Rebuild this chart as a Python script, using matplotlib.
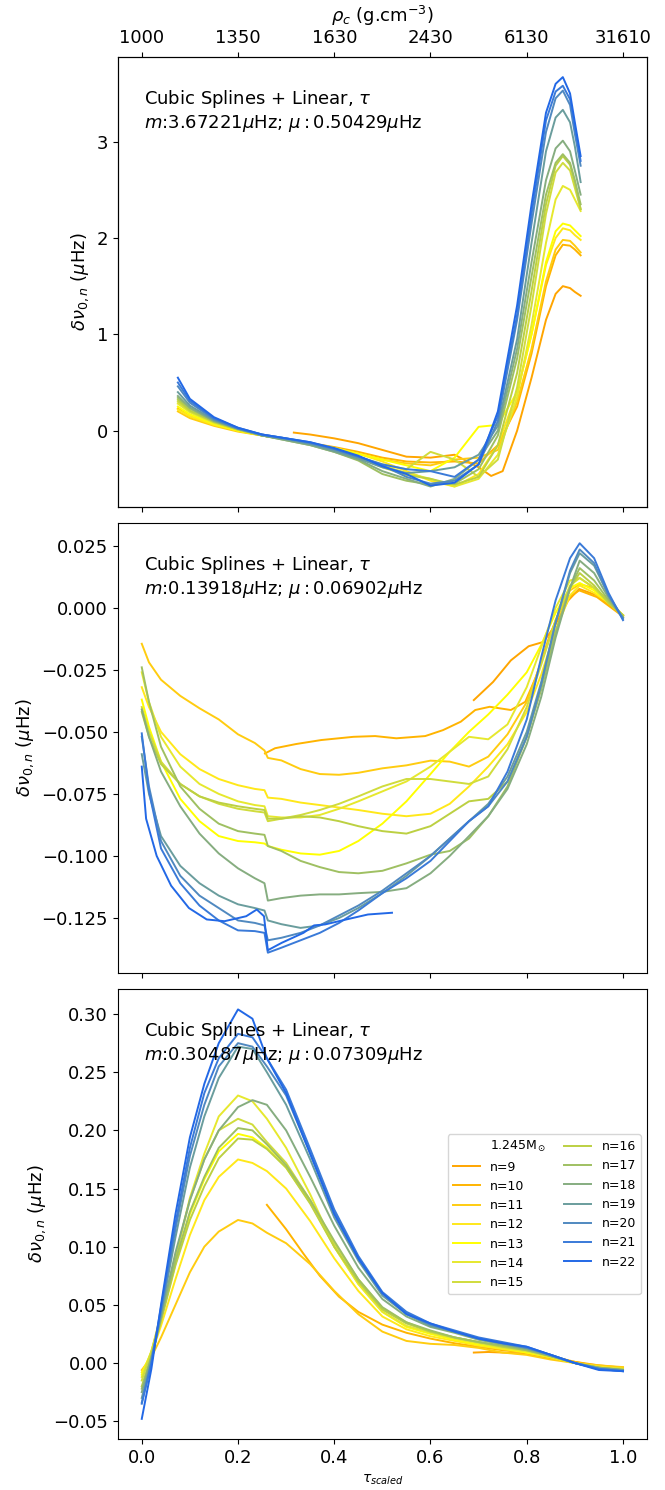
import matplotlib
matplotlib.use("Agg")
import matplotlib.pyplot as plt
from matplotlib.lines import Line2D

# radial order of each curve and its colour
modes = [9, 10, 11, 12, 13, 14, 15, 16, 17, 18, 19, 20, 21, 22]
colors = ['#ffa500', '#ffb400', '#ffcc10', '#ffe81a', '#ffff00', '#e6e82e',
          '#d0dc3c', '#bcd042', '#9fc062', '#86ad80', '#6a9d9d', '#5089c0',
          '#3a7ad8', '#2268e6']

# top axis: central density at tau_scaled = 0, 0.2, ... 1.0
rho_ticks = [0.0, 0.2, 0.4, 0.6, 0.8, 1.0]
rho_labels = ['1000', '1350', '1630', '2430', '6130', '31610']

# ---------------- panel 1 (muHz) ----------------
top_tau = [0.075, 0.1, 0.15, 0.2, 0.25, 0.3, 0.35, 0.4, 0.45, 0.5, 0.55, 0.6,
           0.65, 0.7, 0.74, 0.78, 0.81, 0.84, 0.86, 0.875, 0.89, 0.9, 0.912]
top_tau_n9 = [0.316, 0.35, 0.4, 0.45, 0.5, 0.55, 0.6, 0.65, 0.7, 0.726, 0.75,
              0.78, 0.81, 0.84, 0.86, 0.875, 0.89, 0.9, 0.912]
top_n9 = [-0.02, -0.04, -0.08, -0.13, -0.20, -0.27, -0.28, -0.25, -0.38, -0.47,
          -0.42, 0.0, 0.55, 1.15, 1.42, 1.50, 1.48, 1.44, 1.40]
top_y = [
    [0.23, 0.15, 0.06, 0.0, -0.05, -0.09, -0.13, -0.17, -0.22, -0.28, -0.32, -0.33, -0.32, -0.34, -0.15, 0.25, 0.80, 1.50, 1.82, 1.93, 1.92, 1.88, 1.82],  # n=10
    [0.20, 0.13, 0.05, -0.01, -0.05, -0.09, -0.13, -0.18, -0.24, -0.30, -0.34, -0.36, -0.30, -0.28, -0.20, 0.30, 0.85, 1.55, 1.88, 1.98, 1.97, 1.92, 1.85],  # n=11
    [0.22, 0.15, 0.06, 0.0, -0.05, -0.09, -0.13, -0.18, -0.24, -0.32, -0.42, -0.52, -0.58, -0.45, -0.15, 0.40, 1.00, 1.72, 2.00, 2.10, 2.08, 2.03, 1.98],  # n=12
    [0.25, 0.17, 0.07, 0.0, -0.05, -0.09, -0.13, -0.18, -0.24, -0.30, -0.36, -0.42, -0.28, 0.04, 0.06, 0.40, 1.00, 1.75, 2.07, 2.15, 2.13, 2.08, 2.02],  # n=13
    [0.28, 0.19, 0.08, 0.01, -0.05, -0.09, -0.14, -0.20, -0.27, -0.36, -0.44, -0.50, -0.58, -0.50, -0.25, 0.35, 1.10, 1.95, 2.40, 2.54, 2.50, 2.40, 2.28],  # n=14
    [0.30, 0.20, 0.09, 0.01, -0.05, -0.09, -0.14, -0.20, -0.27, -0.35, -0.40, -0.22, -0.30, -0.48, -0.30, 0.45, 1.30, 2.25, 2.68, 2.78, 2.70, 2.52, 2.30],  # n=15
    [0.32, 0.21, 0.09, 0.01, -0.05, -0.09, -0.14, -0.20, -0.28, -0.38, -0.46, -0.50, -0.56, -0.48, -0.15, 0.60, 1.45, 2.35, 2.75, 2.85, 2.76, 2.58, 2.30],  # n=16
    [0.34, 0.23, 0.10, 0.02, -0.05, -0.10, -0.15, -0.22, -0.31, -0.45, -0.52, -0.56, -0.55, -0.40, -0.05, 0.75, 1.60, 2.45, 2.78, 2.87, 2.78, 2.60, 2.35],  # n=17
    [0.36, 0.24, 0.10, 0.02, -0.05, -0.10, -0.15, -0.22, -0.30, -0.42, -0.50, -0.58, -0.50, -0.30, 0.0, 0.85, 1.75, 2.60, 2.93, 3.01, 2.90, 2.70, 2.45],  # n=18
    [0.40, 0.26, 0.11, 0.02, -0.05, -0.09, -0.14, -0.21, -0.29, -0.38, -0.44, -0.42, -0.38, -0.25, 0.05, 0.95, 1.95, 2.90, 3.25, 3.33, 3.20, 2.95, 2.58],  # n=19
    [0.46, 0.29, 0.12, 0.02, -0.04, -0.08, -0.13, -0.19, -0.27, -0.36, -0.48, -0.55, -0.52, -0.35, 0.10, 1.15, 2.15, 3.10, 3.45, 3.53, 3.38, 3.08, 2.75],  # n=20
    [0.50, 0.31, 0.13, 0.03, -0.04, -0.08, -0.12, -0.19, -0.27, -0.35, -0.40, -0.42, -0.48, -0.30, 0.15, 1.20, 2.25, 3.22, 3.52, 3.58, 3.44, 3.15, 2.80],  # n=21
    [0.55, 0.33, 0.14, 0.03, -0.04, -0.08, -0.12, -0.18, -0.26, -0.37, -0.45, -0.57, -0.54, -0.35, 0.20, 1.30, 2.35, 3.30, 3.60, 3.67, 3.50, 3.20, 2.85],  # n=22
]

# ---------------- panel 2 (muHz) ----------------
mid_tau = [0, 0.015, 0.04, 0.08, 0.12, 0.16, 0.2, 0.235, 0.255, 0.262, 0.29,
           0.33, 0.37, 0.41, 0.45, 0.5, 0.55, 0.6, 0.64, 0.68, 0.72, 0.76,
           0.8, 0.83, 0.86, 0.89, 0.91, 0.94, 0.97, 1.0]
mid_tau_n9 = [0.69, 0.73, 0.767, 0.804, 0.834, 0.857, 0.886, 0.909, 0.946, 1.0]
mid_n9 = [-37.2, -29.9, -21.2, -15.5, -13.8, -7.8, 2.9, 7.6, 5.0, -3.1]
mid_tau_n10 = [0.256, 0.277, 0.321, 0.373, 0.44, 0.485, 0.529, 0.589, 0.626,
               0.663, 0.693, 0.723, 0.767, 0.797, 0.819, 0.849, 0.879, 0.909,
               0.946, 1.0]
mid_n10 = [-58.7, -56.6, -54.9, -53.3, -52.0, -51.7, -52.6, -51.7, -49.3, -45.9,
           -41.2, -39.9, -41.2, -37.9, -27.9, -10.4, 2.9, 7.0, 4.3, -3.5]
mid_tau_n22 = [0, 0.009, 0.031, 0.061, 0.098, 0.135, 0.172, 0.217, 0.239, 0.254,
               0.262, 0.291, 0.336, 0.358, 0.381, 0.425, 0.47, 0.52]
mid_n22 = [-64, -85, -100, -112, -121, -125.6, -126.3, -124.3, -121.6, -124.3,
           -138, -135, -131, -128, -127.6, -125.6, -123.6, -122.9]
mid_y = [
    [-14.5, -22, -29, -35.5, -40.5, -45, -51, -54.5, -57.5, -60.5, -61.5, -65, -67, -67.3, -66.5, -64.7, -63.5, -61.6, -62, -64, -60, -51, -38, -22, -5, 7, 9.5, 8, 3, -3],  # n=11
    [-32, -40, -50, -59, -65, -69, -71.5, -73, -73.5, -76.5, -77, -78.5, -79.5, -80.5, -81.5, -83, -84, -83, -79, -72, -64, -55, -42, -27, -9, 5, 9, 6, 2, -3],  # n=12
    [-37, -48, -62, -77, -86, -92, -94, -94.5, -95, -96, -97.5, -99, -99.5, -98, -94, -87, -78, -67, -58, -50, -43, -35, -26, -15, -2, 8, 10, 7, 2, -3],  # n=13
    [-26, -38, -52, -64, -71, -75, -78, -79.5, -80, -84, -84.5, -84.5, -83.5, -81, -78, -74, -70, -64, -58, -52, -53, -47, -32, -16, 0, 11, 12, 8, 2, -3],  # n=14
    [-40, -50, -62, -71, -76, -79, -81, -82, -82.5, -86, -85, -83.5, -81.5, -79, -76, -72, -69, -69, -70, -71, -68, -57, -40, -23, -5, 9, 12, 8, 2, -3],  # n=15
    [-42, -52, -63, -71, -76, -78.5, -80, -81, -81.5, -85, -85, -84, -84.5, -86, -88, -90, -91, -88, -83, -78, -77, -70, -52, -32, -10, 8, 14, 9, 2, -3],  # n=16
    [-24, -38, -56, -72, -81, -87, -90, -91, -91.5, -96, -98, -102, -104.5, -106.5, -107, -106, -103, -99.5, -98, -93, -84, -72, -52, -33, -10, 8, 16, 11, 3, -4],  # n=17
    [-41, -52, -66, -80, -91, -99, -105, -109, -111, -118, -117, -116, -115.5, -115.5, -115, -114.5, -113, -107, -100, -92, -84, -73, -55, -36, -12, 8, 19, 14, 4, -4],  # n=18
    [-59, -75, -92, -104, -111, -116, -119.5, -121, -122, -126, -127.5, -129, -128, -125, -121, -115, -108, -100, -93, -86, -79, -68, -50, -30, -6, 14, 22, 17, 5, -4],  # n=19
    [-52, -72, -94, -108, -116, -121, -126, -127, -128, -134, -133, -131, -128, -124, -120, -114, -107, -100, -93, -86, -80, -70, -52, -31, -6, 15, 23.5, 18, 5, -4.5],  # n=20
    [-50.6, -74, -97, -111, -120, -126, -130, -130.3, -131, -139, -137, -134, -131, -127, -122, -115, -109, -102, -94, -86, -80, -66, -45, -20, 3, 20, 26, 20, 6, -5],  # n=21
]

# ---------------- panel 3 (muHz) ----------------
bot_tau = [0, 0.02, 0.04, 0.07, 0.1, 0.13, 0.16, 0.2, 0.23, 0.26, 0.3, 0.35,
           0.4, 0.45, 0.5, 0.55, 0.6, 0.65, 0.7, 0.75, 0.8, 0.85, 0.9, 0.95, 1.0]
bot_tau_n9 = [0.69, 0.72, 0.75, 0.8, 0.85, 0.9, 0.95, 1.0]
bot_n9 = [9, 9.5, 9, 8, 4, 1, -2, -4]
bot_tau_n10 = [0.26, 0.3, 0.336, 0.37, 0.41, 0.45, 0.5, 0.55, 0.6, 0.65, 0.7,
               0.75, 0.8, 0.85, 0.9, 0.95, 1.0]
bot_n10 = [136, 115, 94, 75, 57, 44, 33, 26, 21, 17, 14, 11, 9, 6, 1, -3, -4]
bot_y = [
    [-6, 5, 22, 50, 78, 100, 113, 123, 120, 112, 103, 85, 62, 42, 27, 19, 16.5, 15.5, 13, 9, 7, 3, 0, -2, -3.5],  # n=11
    [-8, 8, 32, 72, 110, 140, 160, 175, 172, 165, 150, 122, 90, 62, 40, 29, 23, 19, 15, 12, 9, 5, 0, -3, -5],  # n=12
    [-10, 10, 38, 85, 128, 158, 182, 197, 194, 185, 168, 138, 100, 68, 44, 31, 25, 20, 16, 13, 9, 5, 0, -4, -5],  # n=13
    [-12, 10, 40, 90, 142, 180, 212, 230, 225, 210, 185, 145, 100, 68, 44, 32, 26, 21, 17, 13, 10, 5, 0, -4, -5],  # n=14
    [-15, 10, 42, 92, 140, 175, 200, 210, 205, 190, 172, 140, 103, 72, 47, 35, 27, 22, 18, 14, 11, 6, 0, -4, -5],  # n=15
    [-20, 6, 36, 84, 123, 152, 176, 193, 192, 184, 168, 137, 100, 70, 46, 34, 27, 22, 18, 14, 11, 6, 0, -4, -6],  # n=16
    [-22, 5, 38, 88, 130, 160, 185, 202, 200, 188, 170, 140, 105, 72, 48, 35, 28, 22, 18, 15, 11, 6, 0, -4, -6],  # n=17
    [-25, 5, 40, 95, 140, 175, 200, 220, 226, 222, 200, 160, 118, 82, 55, 40, 31, 26, 20, 16, 12, 6, 0, -4, -6],  # n=18
    [-30, 2, 42, 108, 168, 212, 245, 272, 270, 250, 222, 175, 125, 88, 58, 42, 32, 27, 21, 17, 13, 7, 0, -5, -6],  # n=19
    [-34, 0, 45, 115, 178, 222, 255, 275, 272, 255, 230, 180, 130, 90, 60, 43, 33, 27, 21, 17, 13, 7, 0, -5, -7],  # n=20
    [-35, 0, 48, 120, 185, 232, 262, 283, 280, 262, 235, 184, 132, 92, 61, 44, 34, 28, 22, 18, 14, 7, 0, -5, -7],  # n=21
    [-48, -5, 50, 128, 194, 240, 275, 304, 296, 262, 232, 180, 128, 90, 60, 42, 34, 27, 21, 17, 14, 7, 0, -6, -7],  # n=22
]

stats = [('3.67221', '0.50429'), ('0.13918', '0.06902'), ('0.30487', '0.07309')]

plt.rcParams['font.family'] = ['DejaVu Sans']
plt.rcParams['xtick.labelsize'] = 13
plt.rcParams['ytick.labelsize'] = 13

fig, axes = plt.subplots(3, 1, sharex=True, figsize=(6.65, 14.9), dpi=100)
fig.subplots_adjust(left=0.177, right=0.973, top=0.962, bottom=0.034, hspace=0.035)

lw = 1.4
ax = axes[0]
ax.plot(top_tau_n9, top_n9, color=colors[0], lw=lw)
for i, ys in enumerate(top_y):
    ax.plot(top_tau, ys, color=colors[i + 1], lw=lw)

ax = axes[1]
ax.plot(mid_tau_n9, [v / 1000 for v in mid_n9], color=colors[0], lw=lw)
ax.plot(mid_tau_n10, [v / 1000 for v in mid_n10], color=colors[1], lw=lw)
for i, ys in enumerate(mid_y):
    ax.plot(mid_tau, [v / 1000 for v in ys], color=colors[i + 2], lw=lw)
ax.plot(mid_tau_n22, [v / 1000 for v in mid_n22], color=colors[13], lw=lw)

ax = axes[2]
ax.plot(bot_tau_n9, [v / 1000 for v in bot_n9], color=colors[0], lw=lw)
ax.plot(bot_tau_n10, [v / 1000 for v in bot_n10], color=colors[1], lw=lw)
for i, ys in enumerate(bot_y):
    ax.plot(bot_tau, [v / 1000 for v in ys], color=colors[i + 2], lw=lw)

for ax, (m, mu) in zip(axes, stats):
    ax.text(0.05, 0.93, 'Cubic Splines + Linear, $\\tau$\n'
            '$m$:' + m + '$\\mu$Hz; $\\mu:' + mu + '\\mu$Hz',
            transform=ax.transAxes, fontsize=13, va='top', ha='left')
    ax.set_ylabel(r'$\delta\nu_{0,n}$ ($\mu$Hz)', fontsize=13)

axes[1].set_yticks([0.025, 0.0, -0.025, -0.05, -0.075, -0.1, -0.125])
axes[2].set_yticks([0.3, 0.25, 0.2, 0.15, 0.1, 0.05, 0.0, -0.05])
axes[2].set_xlabel(r'$\tau_{scaled}$', fontsize=10)
axes[2].set_xticks([0.0, 0.2, 0.4, 0.6, 0.8, 1.0])

top = axes[0].twiny()
top.set_xlim(axes[0].get_xlim())
top.set_xticks(rho_ticks)
top.set_xticklabels(rho_labels)
top.set_xlabel(r'$\rho_c$ (g.cm$^{-3}$)', fontsize=13, labelpad=5)

# legend: mass as a header entry, then one entry per radial order
handles = [Line2D([], [], color='none')]
labels = [r'1.245M$_\odot$']
for n, c in zip(modes, colors):
    handles.append(Line2D([], [], color=c, lw=lw))
    labels.append('n=%d' % n)
axes[2].legend(handles, labels, ncol=2, loc='center right', fontsize=9,
               handlelength=2.2, columnspacing=1.4)

plt.savefig('out.png', dpi=100)
